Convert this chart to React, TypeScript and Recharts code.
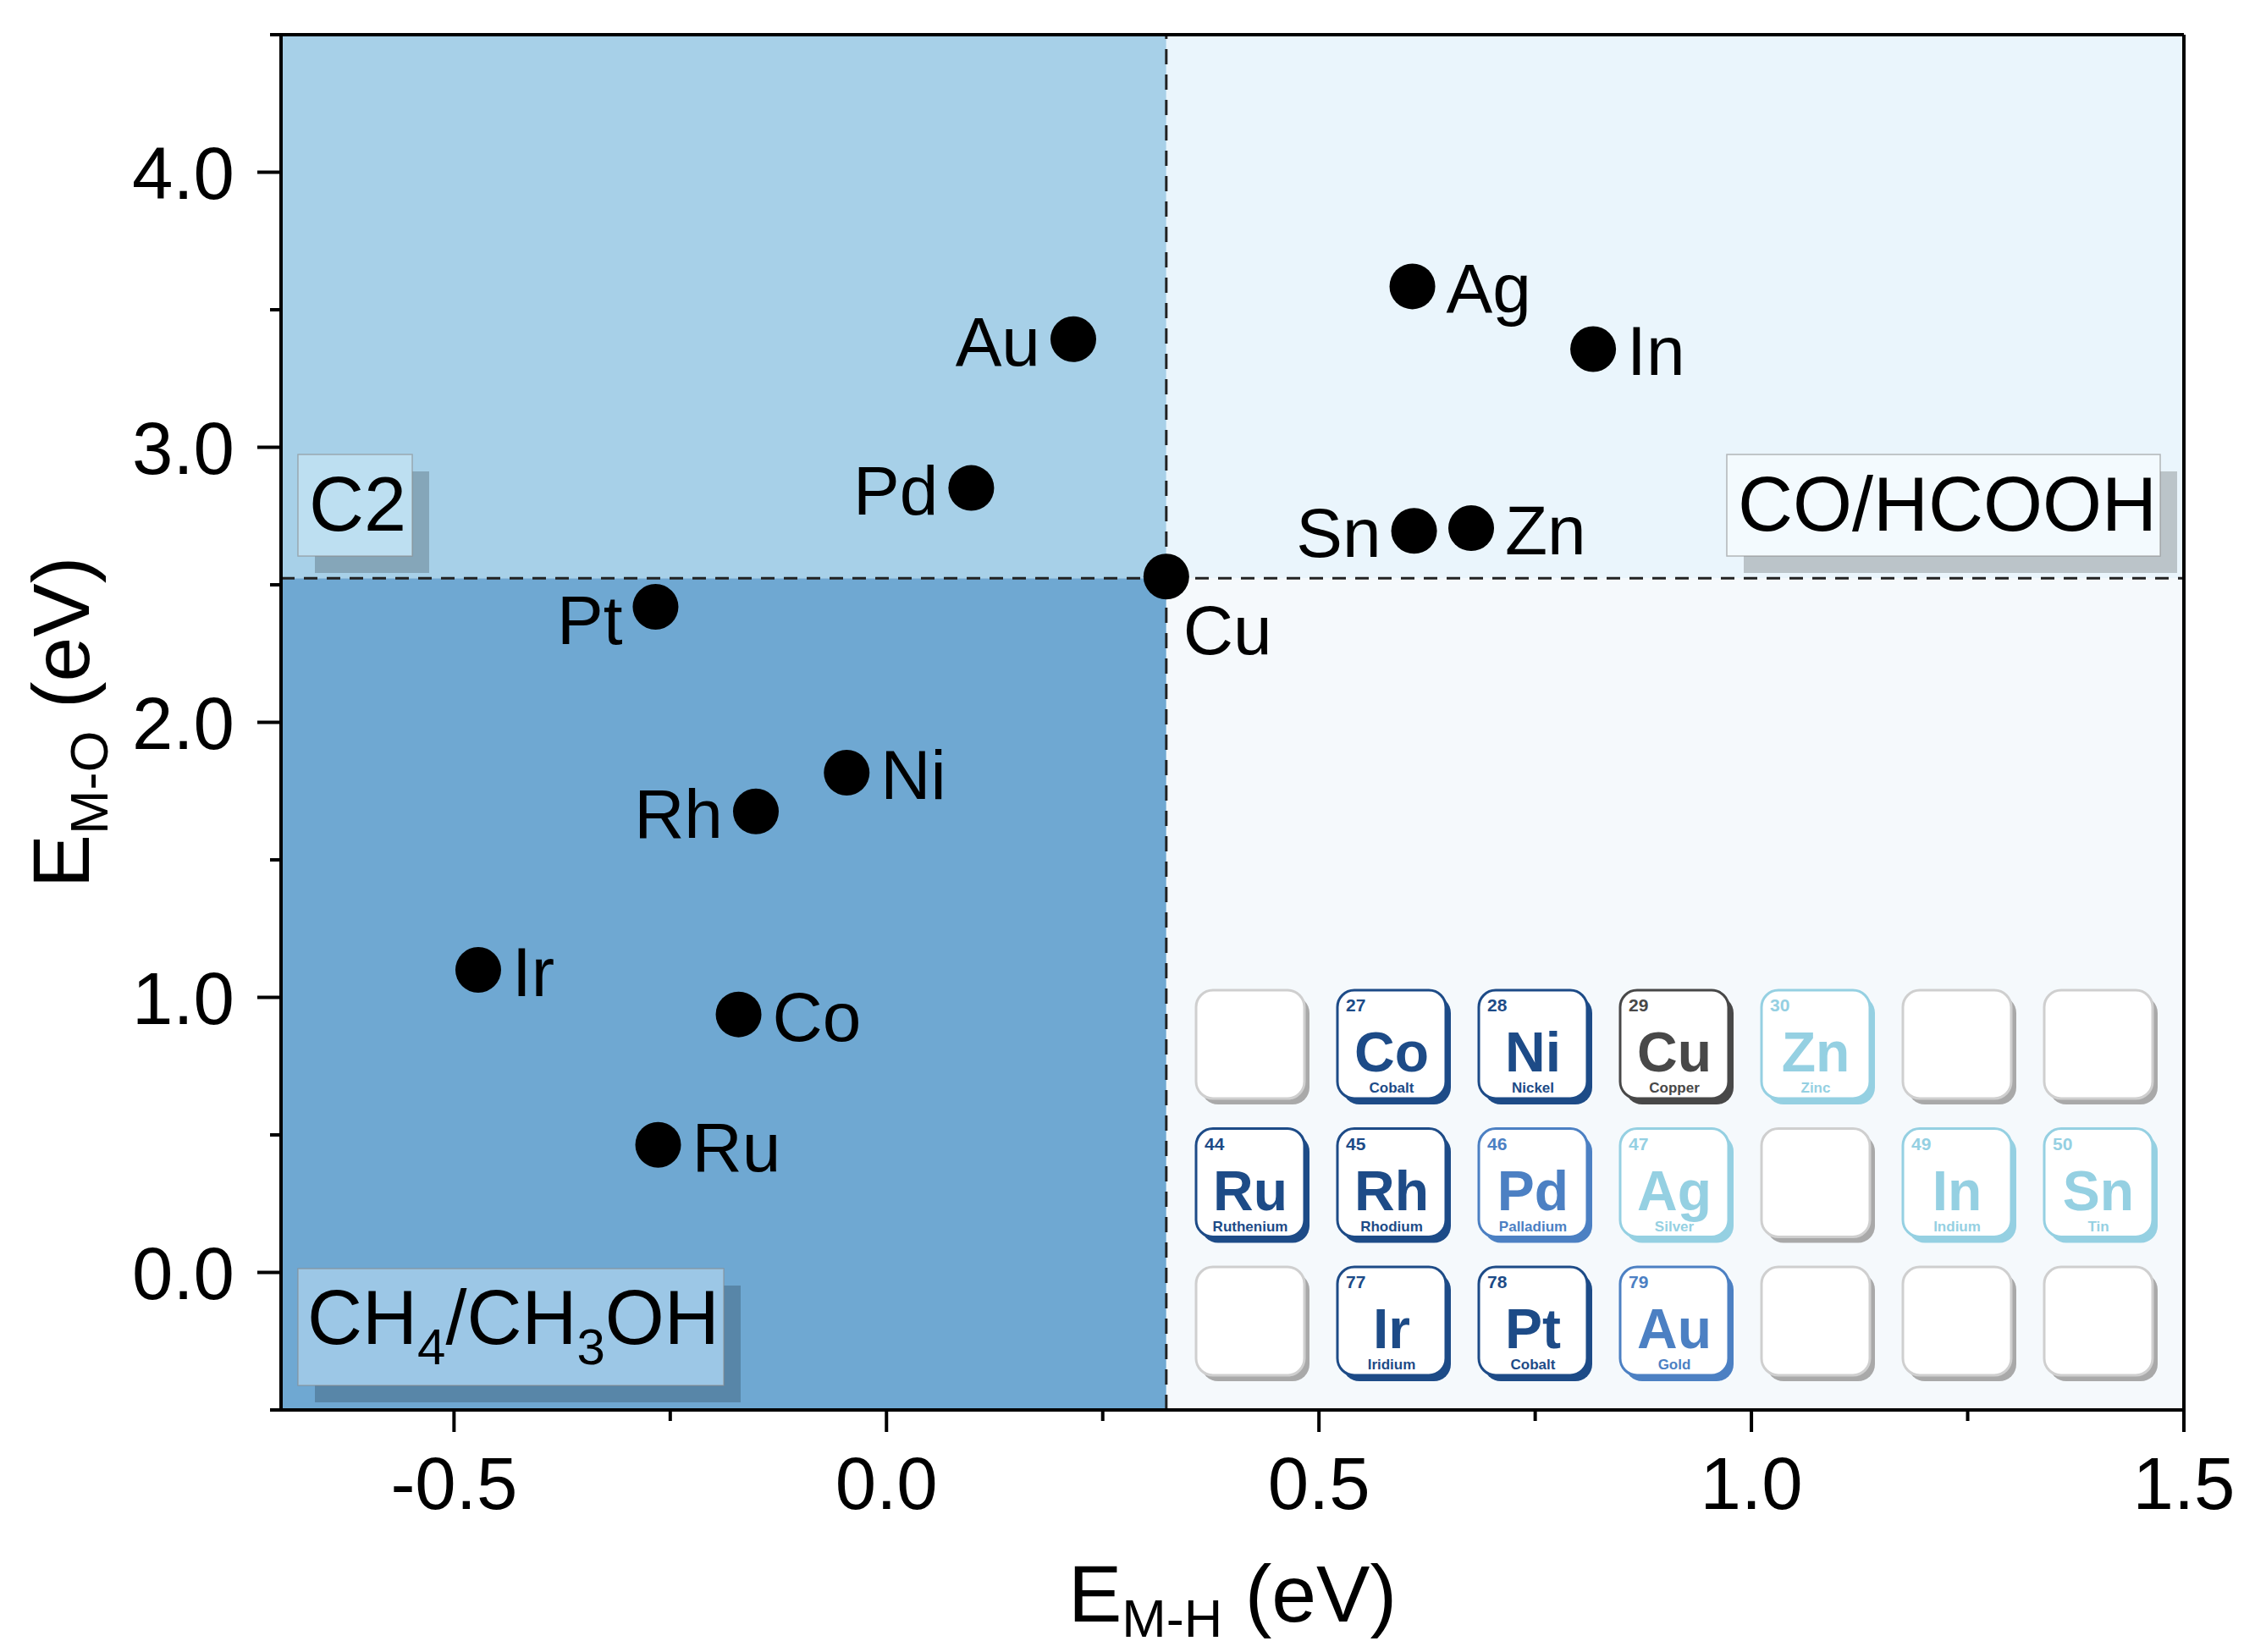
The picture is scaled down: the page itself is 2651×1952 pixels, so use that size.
import React from "react"
import {
  ScatterChart,
  Scatter,
  XAxis,
  YAxis,
  ReferenceArea,
  ReferenceLine,
} from "recharts"

// binding energies
const elements = ["Au", "Pd", "Ag", "In", "Sn", "Zn", "Cu", "Pt", "Ni", "Rh", "Ir", "Co", "Ru"]
const eMH = [0.216, 0.098, 0.608, 0.817, 0.61, 0.676, 0.3235, -0.267, -0.046, -0.151, -0.472, -0.171, -0.264]
const eMO = [3.393, 2.852, 3.585, 3.357, 2.696, 2.706, 2.53, 2.42, 1.817, 1.676, 1.1, 0.938, 0.464]

const xTicks = [-0.5, -0.25, 0, 0.25, 0.5, 0.75, 1, 1.25, 1.5]
const xMajor = [-0.5, 0, 0.5, 1, 1.5]
const yTicks = [-0.5, 0, 0.5, 1, 1.5, 2, 2.5, 3, 3.5, 4, 4.5]
const yMajor = [0, 1, 2, 3, 4]

const xDivider = 0.3235
const yDivider = 2.524

// periodic table inset
const tileSymbols = [
  ["", "Co", "Ni", "Cu", "Zn", "", ""],
  ["Ru", "Rh", "Pd", "Ag", "", "In", "Sn"],
  ["", "Ir", "Pt", "Au", "", "", ""],
]
const tileNumbers = [
  ["", "27", "28", "29", "30", "", ""],
  ["44", "45", "46", "47", "", "49", "50"],
  ["", "77", "78", "79", "", "", ""],
]
const tileNames = [
  ["", "Cobalt", "Nickel", "Copper", "Zinc", "", ""],
  ["Ruthenium", "Rhodium", "Palladium", "Silver", "", "Indium", "Tin"],
  ["", "Iridium", "Cobalt", "Gold", "", "", ""],
]
const tileTones = [
  ["", "dark", "dark", "gray", "light", "", ""],
  ["dark", "dark", "mid", "light", "", "light", "light"],
  ["", "dark", "dark", "mid", "", "", ""],
]

const TONE: Record<string, string> = {
  dark: "#1d4b87",
  mid: "#4c80c3",
  light: "#95d0e2",
  gray: "#484848",
}

const FONT = "'Liberation Sans', Arial, Helvetica, sans-serif"
const W = 2651
const H = 1952

const data = elements.map((name, i) => ({ name, x: eMH[i], y: eMO[i] }))

const labelSide: Record<string, string> = {
  Au: "left",
  Pd: "left",
  Sn: "left",
  Rh: "left",
  Pt: "leftLow",
  Cu: "below",
}

function XTick({ x, y, payload }: any) {
  const v = payload.value
  const major = xMajor.includes(v)
  return (
    <g>
      <line x1={x} x2={x} y1={y} y2={y + (major ? 26 : 13)} stroke="#000" strokeWidth={4} />
      {major && (
        <text x={x} y={y + 117} textAnchor="middle" fontSize={87} fill="#000" fontFamily={FONT}>
          {v.toFixed(1)}
        </text>
      )}
    </g>
  )
}

function YTick({ x, y, payload }: any) {
  const v = payload.value
  const major = yMajor.includes(v)
  return (
    <g>
      <line x1={x} x2={x - (major ? 28 : 13)} y1={y} y2={y} stroke="#000" strokeWidth={4} />
      {major && (
        <text x={x - 55} y={y + 31} textAnchor="end" fontSize={87} fill="#000" fontFamily={FONT}>
          {v.toFixed(1)}
        </text>
      )}
    </g>
  )
}

function XTitle({ viewBox }: any) {
  const cx = viewBox.x + viewBox.width / 2
  return (
    <text x={cx} y={viewBox.y + 250} textAnchor="middle" fontSize={95} fontFamily={FONT} fill="#000">
      E<tspan fontSize={63} dy={18}>M-H</tspan>
      <tspan dy={-18}> (eV)</tspan>
    </text>
  )
}

function YTitle({ viewBox }: any) {
  const cy = viewBox.y + viewBox.height / 2
  const bx = 105
  return (
    <text
      x={bx}
      y={cy}
      transform={`rotate(-90, ${bx}, ${cy})`}
      textAnchor="middle"
      fontSize={95}
      fontFamily={FONT}
      fill="#000"
    >
      E<tspan fontSize={63} dy={22}>M-O</tspan>
      <tspan dy={-22}> (eV)</tspan>
    </text>
  )
}

function ElementDot(props: any) {
  const { cx, cy, payload } = props
  const side = labelSide[payload.name] ?? "right"
  let tx = cx + 40
  let ty = cy + 31
  let anchor = "start"
  if (side === "left" || side === "leftLow") {
    tx = cx - 39
    anchor = "end"
  }
  if (side === "leftLow") ty = cy + 44
  if (side === "below") {
    tx = cx + 20
    ty = cy + 92
  }
  return (
    <g>
      <circle cx={cx} cy={cy} r={27} fill="#000" />
      <text x={tx} y={ty} textAnchor={anchor as any} fontSize={82} fontFamily={FONT} fill="#000">
        {payload.name}
      </text>
    </g>
  )
}

function RegionBox({ x, y, w, h, fill, children }: any) {
  return (
    <g>
      <rect x={x + 20} y={y + 20} width={w} height={h} fill="#000" fillOpacity={0.2} />
      <rect x={x} y={y} width={w} height={h} fill={fill} stroke="#8a8a8a" strokeOpacity={0.6} strokeWidth={1.5} />
      {children}
    </g>
  )
}

function PeriodicInset() {
  const ox = 1413
  const oy = 1170
  const px = 167
  const py = 163.5
  const s = 128
  return (
    <g>
      {tileSymbols.map((row, r) =>
        row.map((sym, c) => {
          const x = ox + c * px
          const y = oy + r * py
          const tone = tileTones[r][c]
          const col = tone ? TONE[tone] : "#cfcfcf"
          const shade = tone ? TONE[tone] : "#a9a9a9"
          return (
            <g key={`${r}-${c}`}>
              <rect x={x + 6} y={y + 7} width={s} height={s} rx={20} fill={shade} />
              <rect x={x} y={y} width={s} height={s} rx={20} fill="#fff" stroke={col} strokeWidth={3} />
              {sym && (
                <>
                  <text x={x + 10} y={y + 25} fontSize={21} fontWeight="bold" fill={col} fontFamily={FONT}>
                    {tileNumbers[r][c]}
                  </text>
                  <text x={x + s / 2} y={y + 96} textAnchor="middle" fontSize={66} fontWeight="bold" fill={col} fontFamily={FONT}>
                    {sym}
                  </text>
                  <text x={x + s / 2} y={y + 121} textAnchor="middle" fontSize={17} fontWeight="bold" fill={col} fontFamily={FONT}>
                    {tileNames[r][c]}
                  </text>
                </>
              )}
            </g>
          )
        })
      )}
    </g>
  )
}

export default function App() {
  return (
    <div style={{ position: "relative", width: W, height: H, fontFamily: FONT, background: "#fff" }}>
      <style>{"body{margin:0}"}</style>
      <ScatterChart width={W} height={H} margin={{ top: 41, right: 71, bottom: 0, left: 0 }}>
        <XAxis
          type="number"
          dataKey="x"
          domain={[-0.7, 1.5]}
          ticks={xTicks}
          interval={0}
          allowDataOverflow
          height={286}
          tickSize={0}
          tickMargin={0}
          tickLine={false}
          axisLine={{ stroke: "#000", strokeWidth: 4 }}
          tick={<XTick />}
          label={<XTitle />}
        />
        <YAxis
          type="number"
          dataKey="y"
          domain={[-0.5, 4.5]}
          ticks={yTicks}
          interval={0}
          allowDataOverflow
          width={332}
          tickSize={0}
          tickMargin={0}
          tickLine={false}
          axisLine={{ stroke: "#000", strokeWidth: 4 }}
          tick={<YTick />}
          label={<YTitle />}
        />
        <ReferenceArea x1={-0.7} x2={xDivider} y1={yDivider} y2={4.5} fill="#a7d0e8" fillOpacity={1} strokeWidth={0} />
        <ReferenceArea x1={-0.7} x2={xDivider} y1={-0.5} y2={yDivider} fill="#6fa8d2" fillOpacity={1} strokeWidth={0} />
        <ReferenceArea x1={xDivider} x2={1.5} y1={yDivider} y2={4.5} fill="#eaf5fc" fillOpacity={1} strokeWidth={0} />
        <ReferenceArea x1={xDivider} x2={1.5} y1={-0.5} y2={yDivider} fill="#f5f9fc" fillOpacity={1} strokeWidth={0} />
        <ReferenceLine x={xDivider} stroke="#222" strokeWidth={3} strokeDasharray="18 12" />
        <ReferenceLine y={yDivider} stroke="#222" strokeWidth={3} strokeDasharray="16 11" />
        <ReferenceLine y={4.5} stroke="#000" strokeWidth={4} />
        <ReferenceLine x={1.5} stroke="#000" strokeWidth={4} />
        <Scatter data={data} shape={<ElementDot />} isAnimationActive={false} />
      </ScatterChart>
      <svg
        width={W}
        height={H}
        style={{ position: "absolute", left: 0, top: 0, pointerEvents: "none" }}
        fontFamily={FONT}
      >
        <RegionBox x={352} y={537} w={135} h={120} fill="#bddff1">
          <text x={365} y={627} fontSize={90}>C2</text>
        </RegionBox>
        <RegionBox x={2040} y={537} w={512} h={120} fill="#f3fafe">
          <text x={2053} y={627} fontSize={90}>CO/HCOOH</text>
        </RegionBox>
        <RegionBox x={352} y={1499} w={503} h={138} fill="#9cc7e6">
          <text x={363} y={1588} fontSize={90}>
            CH<tspan fontSize={60} dy={24}>4</tspan>
            <tspan dy={-24}>/CH</tspan>
            <tspan fontSize={60} dy={24}>3</tspan>
            <tspan dy={-24}>OH</tspan>
          </text>
        </RegionBox>
        <PeriodicInset />
      </svg>
    </div>
  )
}
